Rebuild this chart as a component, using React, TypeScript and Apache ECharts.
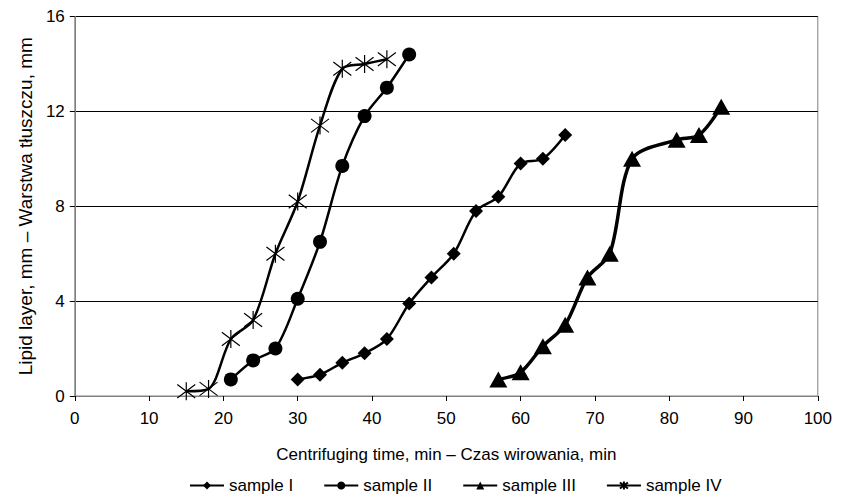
import React, { useEffect, useRef } from "react";
import * as echarts from "echarts";

const sampleI: [number, number][] = [
  [30, 0.7], [33, 0.9], [36, 1.4], [39, 1.8], [42, 2.4], [45, 3.9], [48, 5.0],
  [51, 6.0], [54, 7.8], [57, 8.4], [60, 9.8], [63, 10.0], [66, 11.0],
];
const sampleII: [number, number][] = [
  [21, 0.7], [24, 1.5], [27, 2.0], [30, 4.1], [33, 6.5], [36, 9.7], [39, 11.8],
  [42, 13.0], [45, 14.4],
];
const sampleIII: [number, number][] = [
  [57, 0.7], [60, 1.0], [63, 2.1], [66, 3.0], [69, 5.0], [72, 6.0], [75, 10.0],
  [81, 10.8], [84, 11.0], [87, 12.2],
];
const sampleIV: [number, number][] = [
  [15, 0.2], [18, 0.3], [21, 2.4], [24, 3.2], [27, 6.0], [30, 8.2], [33, 11.4],
  [36, 13.8], [39, 14.0], [42, 14.2],
];
const seriesNames = ["sample I", "sample II", "sample III", "sample IV"];

const FONT = "Liberation Sans, Arial, sans-serif";
const ASTERISK = "path://M8,0L8,16M1,2L15,14M15,2L1,14";

export default function App() {
  const ref = useRef<HTMLDivElement>(null);
  useEffect(() => {
    if (!ref.current) return;
    const chart = echarts.init(ref.current, undefined, { renderer: "svg" });
    const base = (name: string, data: [number, number][]) => ({
      name,
      type: "line" as const,
      data,
      smooth: 0.3,
      lineStyle: { color: "#000", width: 2.5 },
      itemStyle: { color: "#000" },
      emphasis: { disabled: true },
    });
    chart.setOption({
      animation: false,
      textStyle: { fontFamily: FONT, color: "#000" },
      grid: {
        left: 61,
        right: 10,
        top: 7,
        bottom: 98,
        show: true,
        borderColor: "#808080",
        borderWidth: 1,
      },
      xAxis: {
        type: "value",
        min: 0,
        max: 100,
        interval: 10,
        name: "Centrifuging time, min – Czas wirowania, min",
        nameLocation: "middle",
        nameGap: 50,
        nameTextStyle: { fontSize: 17, color: "#000", fontFamily: FONT },
        axisLine: { lineStyle: { color: "#808080", width: 1 } },
        axisTick: { show: true, length: 5, lineStyle: { color: "#000" } },
        axisLabel: { fontSize: 17, color: "#000", margin: 14, fontFamily: FONT },
        splitLine: { show: false },
      },
      yAxis: {
        type: "value",
        min: 0,
        max: 16,
        interval: 4,
        name: "Lipid layer, mm – Warstwa tłuszczu, mm",
        nameLocation: "middle",
        nameGap: 39,
        nameTextStyle: { fontSize: 19, color: "#000", fontFamily: FONT },
        axisLine: { show: true, lineStyle: { color: "#808080", width: 1 } },
        axisTick: { show: true, length: 5, lineStyle: { color: "#000" } },
        axisLabel: { fontSize: 17, color: "#000", margin: 10, fontFamily: FONT },
        splitLine: { show: true, lineStyle: { color: "#000", width: 1 } },
      },
      legend: {
        top: 469,
        left: 181,
        padding: 0,
        itemWidth: 34,
        itemHeight: 10,
        itemGap: 30,
        textStyle: { fontSize: 17, color: "#000", fontFamily: FONT },
        data: seriesNames,
      },
      series: [
        { ...base(seriesNames[0], sampleI), symbol: "diamond", symbolSize: 14 },
        { ...base(seriesNames[1], sampleII), symbol: "circle", symbolSize: 14 },
        {
          ...base(seriesNames[2], sampleIII),
          symbol: "triangle",
          symbolSize: [18, 16],
          lineStyle: { color: "#000", width: 3.5 },
        },
        {
          ...base(seriesNames[3], sampleIV),
          symbol: ASTERISK,
          symbolSize: 18,
          itemStyle: { color: "none", borderColor: "#000", borderWidth: 1.2 },
        },
      ],
    });
    return () => chart.dispose();
  }, []);
  return <div ref={ref} style={{ width: 827, height: 486 }} />;
}
